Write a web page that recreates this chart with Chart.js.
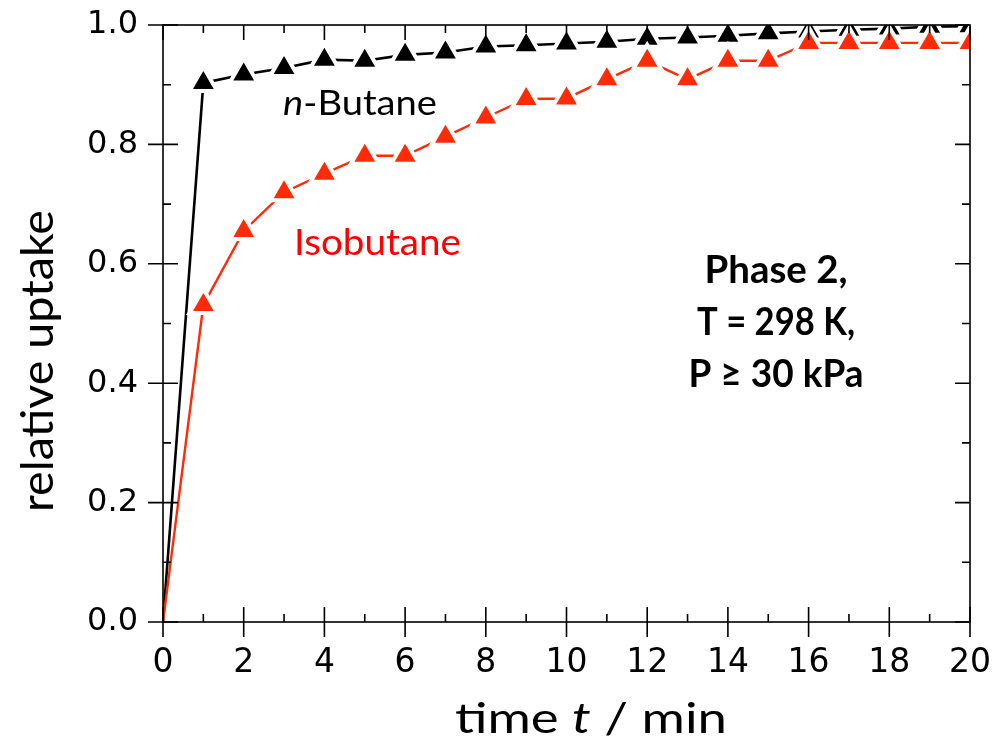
<!DOCTYPE html>
<html>
<head>
<meta charset="utf-8">
<script src="https://cdn.jsdelivr.net/npm/chart.js@4/dist/chart.umd.min.js"></script>
<style>
  html, body { margin: 0; padding: 0; background: #ffffff; }
  #wrap { position: relative; width: 999px; height: 754px; }
</style>
</head>
<body>
<div id="wrap"><canvas id="c" width="999" height="754"></canvas></div>
<script>
// ---- data ----
const times = [0, 1, 2, 3, 4, 5, 6, 7, 8, 9, 10, 11, 12, 13, 14, 15, 16, 17, 18, 19, 20];
const nButane = [0, 0.903, 0.917, 0.928, 0.942, 0.940, 0.950, 0.954, 0.964, 0.966, 0.969, 0.972, 0.977, 0.979, 0.982, 0.986, 0.989, 0.992, 0.994, 0.997, 0.998];
const isobutane = [0, 0.531, 0.655, 0.720, 0.751, 0.781, 0.781, 0.813, 0.845, 0.876, 0.877, 0.909, 0.940, 0.909, 0.940, 0.940, 0.970, 0.970, 0.970, 0.970, 0.970];
const xMajorTicks = [0, 2, 4, 6, 8, 10, 12, 14, 16, 18, 20];
const xMinorTicks = [1, 3, 5, 7, 9, 11, 13, 15, 17, 19];
const yMajorTicks = [0, 0.2, 0.4, 0.6, 0.8, 1.0];
const yTickLabels = ['0.0', '0.2', '0.4', '0.6', '0.8', '1.0'];
const yMinorTicks = [0.1, 0.3, 0.5, 0.7, 0.9];
const seriesNames = ['Isobutane', 'n-Butane'];
const conditionLines = ['Phase 2,', 'T = 298 K,', 'P \u2265 30 kPa'];

const RED = '#ff2a06';
const BLACK = '#000000';

const toPoints = (ys) => times.map((t, i) => ({ x: t, y: ys[i] }));

function stretchedText(ctx, parts, x, y, targetW, size, weight, align, color) {
  const fontOf = (p) => `${p.italic ? 'italic ' : ''}${weight} ${size}px Lato, "Open Sans", sans-serif`;
  let total = 0;
  parts.forEach(p => { ctx.font = fontOf(p); total += ctx.measureText(p.t).width; });
  const s = targetW / total;
  ctx.save();
  ctx.fillStyle = color;
  ctx.textBaseline = 'alphabetic';
  ctx.textAlign = 'left';
  let x0 = x;
  if (align === 'center') x0 = x - targetW / 2;
  ctx.translate(x0, y);
  ctx.scale(s, 1);
  let cx = 0;
  parts.forEach(p => { ctx.font = fontOf(p); ctx.fillText(p.t, cx, 0); cx += ctx.measureText(p.t).width; });
  ctx.restore();
}

const framePlugin = {
  id: 'frameAndText',
  afterDatasetsDraw(chart) {
    const { ctx, chartArea: a, scales: { x, y } } = chart;
    ctx.save();
    ctx.strokeStyle = '#000';
    ctx.lineWidth = 1.6;
    ctx.strokeRect(a.left, a.top, a.right - a.left, a.bottom - a.top);
    ctx.beginPath();
    xMajorTicks.forEach(v => {
      const px = x.getPixelForValue(v);
      ctx.moveTo(px, a.bottom - 15); ctx.lineTo(px, a.bottom + 15);
      ctx.moveTo(px, a.top); ctx.lineTo(px, a.top + 15);
    });
    xMinorTicks.forEach(v => {
      const px = x.getPixelForValue(v);
      ctx.moveTo(px, a.bottom - 8); ctx.lineTo(px, a.bottom);
      ctx.moveTo(px, a.top); ctx.lineTo(px, a.top + 8);
    });
    yMajorTicks.forEach(v => {
      const py = y.getPixelForValue(v);
      ctx.moveTo(a.left - 15, py); ctx.lineTo(a.left + 15, py);
      ctx.moveTo(a.right - 15, py); ctx.lineTo(a.right, py);
    });
    yMinorTicks.forEach(v => {
      const py = y.getPixelForValue(v);
      ctx.moveTo(a.left, py); ctx.lineTo(a.left + 8, py);
      ctx.moveTo(a.right - 8, py); ctx.lineTo(a.right, py);
    });
    ctx.stroke();
    ctx.restore();
  },
  afterDraw(chart) {
    const { ctx } = chart;
    stretchedText(ctx, [{ t: 'n', italic: true }, { t: '-Butane' }], 283, 115, 154, 35, 'normal', 'left', BLACK);
    stretchedText(ctx, [{ t: seriesNames[0] }], 294, 255, 167, 37, 'normal', 'left', '#ff0000');
    const widths = [143, 158, 175];
    const baselines = [283, 335, 387];
    conditionLines.forEach((ln, i) => stretchedText(ctx, [{ t: ln }], 776, baselines[i], widths[i], 38, 'bold', 'center', BLACK));
    stretchedText(ctx, [{ t: 'time ' }, { t: 't', italic: true }, { t: ' / min' }], 455, 733, 272, 42, 'normal', 'left', BLACK);
    ctx.save();
    ctx.translate(53, 512);
    ctx.rotate(-Math.PI / 2);
    stretchedText(ctx, [{ t: 'relative uptake' }], 0, 0, 302, 44, 'normal', 'left', BLACK);
    ctx.restore();
  }
};

new Chart(document.getElementById('c'), {
  type: 'line',
  data: {
    datasets: [
      {
        label: seriesNames[0],
        data: toPoints(isobutane),
        borderColor: RED,
        backgroundColor: RED,
        borderWidth: 2.4,
        pointStyle: 'triangle',
        pointRadius: (c) => (c.dataIndex === 0 ? 0 : 16),
        pointBackgroundColor: RED,
        pointBorderColor: '#ffffff',
        pointBorderWidth: 4,
        tension: 0
      },
      {
        label: seriesNames[1],
        data: toPoints(nButane),
        borderColor: BLACK,
        backgroundColor: BLACK,
        borderWidth: 2.6,
        pointStyle: 'triangle',
        pointRadius: (c) => (c.dataIndex === 0 ? 0 : 16),
        pointBackgroundColor: BLACK,
        pointBorderColor: '#ffffff',
        pointBorderWidth: 4,
        tension: 0
      }
    ]
  },
  options: {
    responsive: false,
    animation: false,
    events: [],
    layout: { padding: { left: 0, top: 25, right: 29, bottom: 0 } },
    plugins: { legend: { display: false }, tooltip: { enabled: false } },
    scales: {
      x: {
        type: 'linear', min: 0, max: 20,
        afterBuildTicks: (s) => { s.ticks = xMajorTicks.map(v => ({ value: v })); },
        afterFit: (s) => { s.height = 132; s.paddingLeft = 0; s.paddingRight = 0; },
        ticks: { color: '#000', font: { family: '"DejaVu Sans"', size: 33 }, padding: 22, maxRotation: 0, autoSkip: false },
        grid: { display: true, drawOnChartArea: false, drawTicks: false },
        border: { display: false }
      },
      y: {
        type: 'linear', min: 0, max: 1,
        afterBuildTicks: (s) => { s.ticks = yMajorTicks.map(v => ({ value: v })); },
        afterFit: (s) => { s.width = 163; s.paddingTop = 0; s.paddingBottom = 0; },
        ticks: {
          color: '#000', font: { family: '"DejaVu Sans"', size: 32 }, padding: 25,
          callback: (v) => yTickLabels[yMajorTicks.findIndex(t => Math.abs(t - v) < 1e-9)]
        },
        grid: { display: true, drawOnChartArea: false, drawTicks: false },
        border: { display: false }
      }
    }
  },
  plugins: [framePlugin]
});
</script>
</body>
</html>
